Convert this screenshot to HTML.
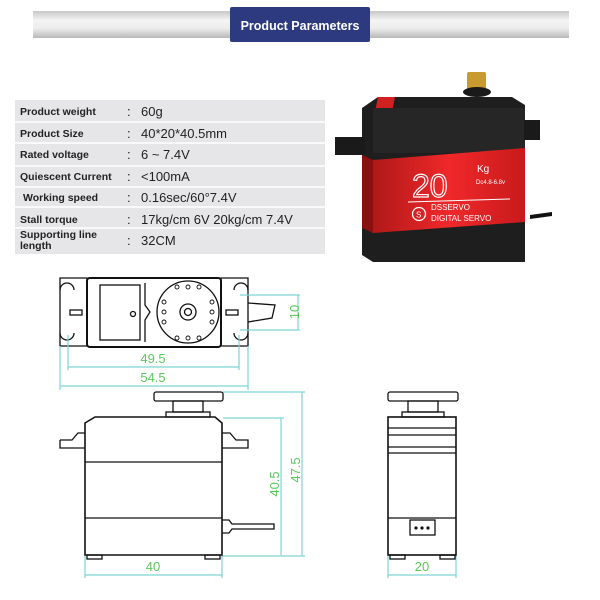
<!DOCTYPE html>
<html><head><meta charset="utf-8"><style>
body{margin:0;background:#fff;}
svg{display:block;font-family:"Liberation Sans",sans-serif;}
</style></head><body>
<svg width="600" height="600" viewBox="0 0 600 600" xmlns="http://www.w3.org/2000/svg">
<defs>
<linearGradient id="bar" x1="0" y1="0" x2="0" y2="1">
<stop offset="0" stop-color="#c8c8c8"/><stop offset="0.35" stop-color="#f4f4f4"/><stop offset="0.65" stop-color="#ececec"/><stop offset="1" stop-color="#b8b8b8"/></linearGradient>
<linearGradient id="red" x1="0" y1="0" x2="1" y2="0">
<stop offset="0" stop-color="#b01818"/><stop offset="0.5" stop-color="#f0282a"/><stop offset="1" stop-color="#c81a1c"/></linearGradient>
</defs>
<!-- header -->
<rect x="33" y="11" width="536" height="27" fill="url(#bar)"/>
<rect x="230" y="7" width="140" height="35" rx="2" fill="#2e3a80"/>
<text x="300" y="30" font-size="12.5" font-weight="bold" fill="#fff" text-anchor="middle">Product Parameters</text>
<!-- table -->
<rect x="15" y="100" width="310" height="154" fill="#e6e6e8"/>
<g stroke="#fff" stroke-width="1.5">
<line x1="15" y1="122" x2="325" y2="122"/><line x1="15" y1="143" x2="325" y2="143"/><line x1="15" y1="166" x2="325" y2="166"/><line x1="15" y1="187" x2="325" y2="187"/><line x1="15" y1="207" x2="325" y2="207"/><line x1="15" y1="228" x2="325" y2="228"/>
</g>
<g font-size="10.5" font-weight="bold" fill="#222">
<text x="20" y="115">Product weight</text>
<text x="20" y="137">Product Size</text>
<text x="20" y="158">Rated voltage</text>
<text x="20" y="180">Quiescent Current</text>
<text x="23" y="201">Working speed</text>
<text x="20" y="223">Stall torque</text>
<text x="20" y="238">Supporting line</text>
<text x="20" y="249">length</text>
</g>
<g font-size="13" fill="#222">
<text x="127" y="116">:</text><text x="141" y="116">60g</text>
<text x="127" y="138">:</text><text x="141" y="138">40*20*40.5mm</text>
<text x="127" y="159">:</text><text x="141" y="159">6 ~ 7.4V</text>
<text x="127" y="181">:</text><text x="141" y="181">&lt;100mA</text>
<text x="127" y="202">:</text><text x="141" y="202">0.16sec/60°7.4V</text>
<text x="127" y="224">:</text><text x="141" y="224">17kg/cm 6V 20kg/cm 7.4V</text>
<text x="127" y="245">:</text><text x="141" y="245">32CM</text>
</g>
<!-- servo photo -->
<path d="M530 215 L552 212 L552 216 L530 219Z" fill="#111"/>
<rect x="467" y="72" width="19" height="18" rx="2" fill="#c89a30"/>
<ellipse cx="477" cy="92" rx="14" ry="5" fill="#1a1a1a"/>
<path d="M362 108 L378 97 L512 97 L525 105 L525 262 L373 262 L362 255Z" fill="#1e1e1e"/>
<path d="M378 97 L395 97 L392 112 L375 112Z" fill="#d02020"/>
<rect x="373" y="108" width="152" height="45" fill="#262626"/>
<rect x="335" y="137" width="30" height="18" fill="#1a1a1a"/>
<rect x="524" y="120" width="16" height="20" fill="#1a1a1a"/>
<path d="M362 155 L373 160 L373 233 L362 228Z" fill="#8a1010"/>
<path d="M373 160 L525 148 L525 222 L373 233Z" fill="url(#red)"/>
<text x="412" y="197" font-size="32" fill="none" stroke="#fff" stroke-width="1.2" font-family="Liberation Sans,sans-serif">20</text>
<text x="477" y="172" font-size="10" fill="#fff">Kg</text>
<text x="476" y="184" font-size="6" fill="#fff">Dc4.8-6.8v</text>
<line x1="408" y1="202" x2="510" y2="199" stroke="#fff"/>
<circle cx="419" cy="214" r="6.5" fill="none" stroke="#fff" stroke-width="1.3"/>
<text x="416" y="217.5" font-size="8" fill="#fff">S</text>
<text x="431" y="210" font-size="8" fill="#fff">DSSERVO</text>
<text x="431" y="221" font-size="8" fill="#fff">DIGITAL SERVO</text>
<!-- top view drawing -->
<g fill="none" stroke="#111" stroke-width="1.3">
<path d="M60 278 L87 278 L87 346 L60 346 Z"/>
<path d="M221 278 L248 278 L248 346 L221 346 Z"/>
<path d="M60 290 a7 7 0 0 1 14 0 M60 333 a7 7 0 0 0 14 0 M234 290 a7 7 0 0 1 14 0 M234 333 a7 7 0 0 0 14 0"/>
<rect x="70" y="310" width="12" height="5"/><rect x="226" y="310" width="12" height="5"/>
<rect x="87" y="278" width="134" height="69" rx="3" stroke-width="2"/>
<rect x="100" y="285" width="40" height="55"/>
<path d="M145 283 L145 305 L150 312 L145 320 L145 342"/>
<circle cx="188" cy="312" r="31"/>
<circle cx="188" cy="312" r="8"/><circle cx="188" cy="312" r="3.5"/>
<circle cx="133" cy="314" r="2.5"/>
<path d="M248 303 L275 305 L272 318 L248 322"/>
</g>
<g fill="none" stroke="#111" stroke-width="0.9">
<circle cx="177" cy="287" r="2"/><circle cx="188" cy="287" r="2"/><circle cx="199" cy="287" r="2"/>
<circle cx="177" cy="338" r="2"/><circle cx="188" cy="338" r="2"/><circle cx="199" cy="338" r="2"/>
<circle cx="164" cy="302" r="2"/><circle cx="164" cy="312" r="2"/><circle cx="164" cy="322" r="2"/>
<circle cx="212" cy="302" r="2"/><circle cx="212" cy="312" r="2"/><circle cx="212" cy="322" r="2"/>
</g>
<!-- dims -->
<g stroke="#7fd4d4" stroke-width="1.2" fill="none">
<line x1="240" y1="295" x2="300" y2="295"/><line x1="240" y1="330" x2="300" y2="330"/><line x1="298" y1="295" x2="298" y2="330"/>
<line x1="68" y1="335" x2="68" y2="370"/><line x1="239" y1="335" x2="239" y2="370"/><line x1="68" y1="367" x2="239" y2="367"/>
<line x1="60" y1="346" x2="60" y2="390"/><line x1="248" y1="346" x2="248" y2="390"/><line x1="60" y1="386" x2="248" y2="386"/>
<line x1="223" y1="418" x2="284" y2="418"/><line x1="281" y1="418" x2="281" y2="555"/>
<line x1="223" y1="392" x2="305" y2="392"/><line x1="302" y1="392" x2="302" y2="556"/><line x1="222" y1="556" x2="305" y2="556"/>
<line x1="85" y1="556" x2="85" y2="578"/><line x1="222" y1="556" x2="222" y2="578"/><line x1="85" y1="575" x2="222" y2="575"/>
<line x1="388" y1="556" x2="388" y2="578"/><line x1="456" y1="556" x2="456" y2="578"/><line x1="388" y1="575" x2="456" y2="575"/>
</g>
<g fill="#5cc85c" font-size="13">
<text x="292" y="319" transform="rotate(-90 292 312)" text-anchor="middle">10</text>
<text x="153" y="363" text-anchor="middle">49.5</text>
<text x="153" y="382" text-anchor="middle">54.5</text>
<text x="275" y="488" transform="rotate(-90 275 484)" text-anchor="middle">40.5</text>
<text x="296" y="474" transform="rotate(-90 296 470)" text-anchor="middle">47.5</text>
<text x="153" y="571" text-anchor="middle">40</text>
<text x="422" y="571" text-anchor="middle">20</text>
</g>
<!-- front view -->
<g fill="none" stroke="#111" stroke-width="1.3">
<rect x="154" y="392" width="69" height="9" rx="2"/>
<rect x="173" y="401" width="30" height="11"/>
<rect x="166" y="412" width="44" height="5"/>
<path d="M85 423 L95 417 L215 417 L222 423 L222 555 L85 555 Z" stroke-width="1.6"/>
<path d="M60 440 L72 440 L78 433 L85 433 M60 440 L60 448 L85 448 M222 433 L230 433 L236 440 L248 440 L248 448 L222 448"/>
<line x1="85" y1="462" x2="222" y2="462"/><line x1="85" y1="518" x2="222" y2="518"/>
<rect x="87" y="555" width="15" height="4"/><rect x="205" y="555" width="15" height="4"/>
<path d="M222 520 L229 520 L232 524 L274 524 L274 529 L232 529 L229 533 L222 533"/>
<!-- side view -->
<rect x="388" y="392" width="70" height="9" rx="2"/>
<rect x="408" y="401" width="30" height="11"/>
<rect x="402" y="412" width="42" height="5"/>
<rect x="388" y="417" width="68" height="138" stroke-width="1.6"/>
<line x1="388" y1="428" x2="456" y2="428"/><line x1="388" y1="435" x2="456" y2="435"/>
<line x1="388" y1="447" x2="456" y2="447"/><line x1="388" y1="453" x2="456" y2="453"/>
<line x1="388" y1="518" x2="456" y2="518"/>
<rect x="410" y="520" width="25" height="15"/>
<rect x="390" y="555" width="15" height="4"/><rect x="440" y="555" width="15" height="4"/>
</g>
<g fill="#111"><circle cx="416" cy="528" r="1.6"/><circle cx="422" cy="528" r="1.6"/><circle cx="428" cy="528" r="1.6"/></g>
</svg>
</body></html>
